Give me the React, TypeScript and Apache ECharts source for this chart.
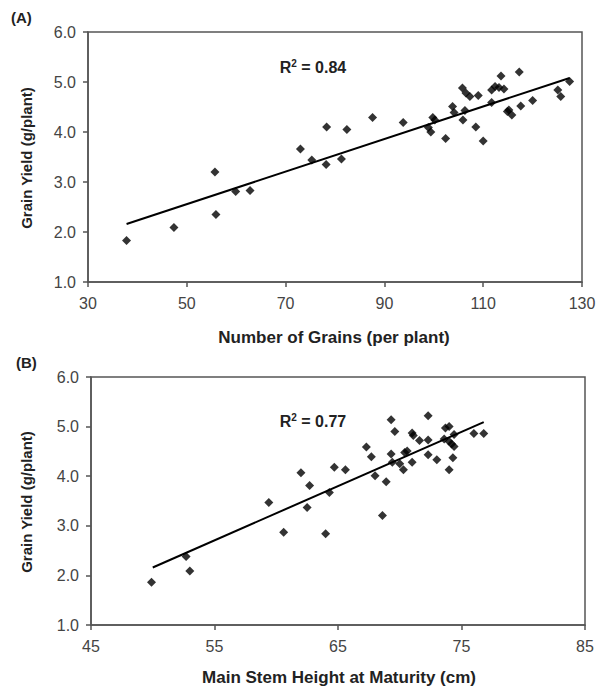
import React, { useEffect, useRef } from "react";
import * as echarts from "echarts";

const grainsA = [37.8, 47.4, 55.7, 55.9, 59.9, 62.8, 73.0, 75.3, 78.3, 78.2, 81.3, 82.4, 87.6, 93.8, 98.9, 99.4, 99.8, 100.2, 102.4, 103.8, 104.1, 105.9, 106.3, 105.8, 106.5, 107.3, 109.0, 108.5, 110.0, 111.7, 111.7, 112.4, 113.2, 113.6, 114.2, 114.9, 115.2, 115.8, 117.3, 117.6, 120.0, 125.1, 125.7, 127.5];
const yieldA = [1.83, 2.09, 3.20, 2.35, 2.81, 2.83, 3.66, 3.44, 4.10, 3.35, 3.46, 4.05, 4.29, 4.19, 4.09, 4.00, 4.29, 4.24, 3.87, 4.51, 4.39, 4.24, 4.43, 4.88, 4.78, 4.71, 4.73, 4.10, 3.82, 4.59, 4.84, 4.91, 4.89, 5.12, 4.86, 4.41, 4.44, 4.34, 5.20, 4.52, 4.63, 4.84, 4.71, 5.01];
const trendA = [[37.8, 2.16], [127.5, 5.08]];

const heightB = [49.9, 52.7, 53.0, 59.4, 60.6, 62.0, 62.7, 62.5, 64.0, 64.3, 64.7, 65.6, 67.3, 67.7, 68.0, 68.6, 68.9, 69.3, 69.6, 69.3, 69.4, 70.0, 70.3, 70.4, 70.6, 71.0, 71.0, 71.1, 71.6, 72.3, 72.3, 72.3, 73.0, 73.7, 74.0, 73.6, 74.0, 74.2, 74.4, 74.3, 74.0, 74.4, 76.0, 76.8];
const yieldB = [1.86, 2.38, 2.09, 3.47, 2.87, 4.07, 3.81, 3.37, 2.84, 3.67, 4.18, 4.13, 4.59, 4.39, 4.01, 3.21, 3.89, 5.14, 4.90, 4.45, 4.28, 4.25, 4.13, 4.48, 4.51, 4.28, 4.87, 4.82, 4.72, 5.22, 4.73, 4.43, 4.33, 4.97, 5.00, 4.75, 4.70, 4.65, 4.60, 4.37, 4.13, 4.84, 4.86, 4.86];
const trendB = [[50.0, 2.16], [76.8, 5.09]];

const r2Labels = ["0.84", "0.77"];
const panelLabels = ["(A)", "(B)"];
const xTitles = ["Number of Grains (per plant)", "Main Stem Height at Maturity (cm)"];
const yTitle = "Grain Yield (g/plant)";

const FONT = "'Liberation Sans', Arial, sans-serif";
const AXIS_COLOR = "#555";

export default function App() {
  const ref = useRef<HTMLDivElement>(null);
  useEffect(() => {
    if (!ref.current) return;
    const chart = echarts.init(ref.current, null, { renderer: "svg" });
    const axisCommon = {
      axisLine: { show: true, onZero: false, lineStyle: { color: AXIS_COLOR, width: 1.5 } },
      axisTick: { show: true, inside: false, length: 5, lineStyle: { color: AXIS_COLOR, width: 1.5 } },
      splitLine: { show: false },
    };
    const yAxisBase = {
      type: "value",
      min: 1,
      max: 6,
      interval: 1,
      ...axisCommon,
      axisLabel: {
        color: "#444",
        fontFamily: FONT,
        fontSize: 16,
        margin: 12,
        formatter: (v: number) => v.toFixed(1),
      },
    };
    const xLabel = { color: "#444", fontFamily: FONT, fontSize: 16, margin: 13 };
    const scatterStyle = { color: "#000" };
    const titleStyle = { fill: "#222", font: `bold 17px ${FONT}` };
    const r2Rich = { sup: { fontSize: 10, fontWeight: "bold", fontFamily: FONT, verticalAlign: "top", padding: [0, 0, 8, 0] } };
    chart.setOption({
      animation: false,
      backgroundColor: "#fff",
      grid: [
        { left: 88, top: 32, width: 494, height: 250, show: true, borderColor: AXIS_COLOR, borderWidth: 1.5, backgroundColor: "transparent" },
        { left: 91, top: 377, width: 494, height: 248, show: true, borderColor: AXIS_COLOR, borderWidth: 1.5, backgroundColor: "transparent" },
      ],
      xAxis: [
        { type: "value", gridIndex: 0, min: 30, max: 130, interval: 20, ...axisCommon, axisLabel: xLabel },
        { type: "value", gridIndex: 1, min: 45, max: 85, interval: 10, ...axisCommon, axisLabel: xLabel },
      ],
      yAxis: [
        { ...yAxisBase, gridIndex: 0 },
        { ...yAxisBase, gridIndex: 1 },
      ],
      series: [
        { type: "line", xAxisIndex: 0, yAxisIndex: 0, data: trendA, symbol: "none", lineStyle: { color: "#000", width: 2 } },
        {
          type: "scatter", xAxisIndex: 0, yAxisIndex: 0, symbol: "diamond", symbolSize: 9,
          itemStyle: scatterStyle, data: grainsA.map((x, i) => [x, yieldA[i]]),
        },
        { type: "line", xAxisIndex: 1, yAxisIndex: 1, data: trendB, symbol: "none", lineStyle: { color: "#000", width: 2 } },
        {
          type: "scatter", xAxisIndex: 1, yAxisIndex: 1, symbol: "diamond", symbolSize: 9,
          itemStyle: scatterStyle, data: heightB.map((x, i) => [x, yieldB[i]]),
        },
      ],
      graphic: [
        { type: "text", left: 11, top: 10, style: { text: panelLabels[0], fill: "#222", font: `bold 15px ${FONT}` } },
        { type: "text", left: 16, top: 355, style: { text: panelLabels[1], fill: "#222", font: `bold 15px ${FONT}` } },
        { type: "text", x: 334, y: 337, style: { text: xTitles[0], ...titleStyle, align: "center", verticalAlign: "middle" } },
        { type: "text", x: 339, y: 677, style: { text: xTitles[1], ...titleStyle, align: "center", verticalAlign: "middle" } },
        {
          type: "text", x: 26, y: 158, rotation: Math.PI / 2,
          style: { text: yTitle, fill: "#222", font: `bold 15px ${FONT}`, align: "center", verticalAlign: "middle" },
        },
        {
          type: "text", x: 26, y: 502, rotation: Math.PI / 2,
          style: { text: yTitle, fill: "#222", font: `bold 15px ${FONT}`, align: "center", verticalAlign: "middle" },
        },
        {
          type: "text", x: 313, y: 67,
          style: { text: "R{sup|2} = " + r2Labels[0], fill: "#222", font: `bold 16px ${FONT}`, align: "center", verticalAlign: "middle", rich: r2Rich },
        },
        {
          type: "text", x: 313, y: 421,
          style: { text: "R{sup|2} = " + r2Labels[1], fill: "#222", font: `bold 16px ${FONT}`, align: "center", verticalAlign: "middle", rich: r2Rich },
        },
      ],
    });
    return () => chart.dispose();
  }, []);
  return (
    <div
      ref={ref}
      style={{ position: "fixed", left: 0, top: 0, width: 599, height: 687, background: "#fff" }}
    />
  );
}
